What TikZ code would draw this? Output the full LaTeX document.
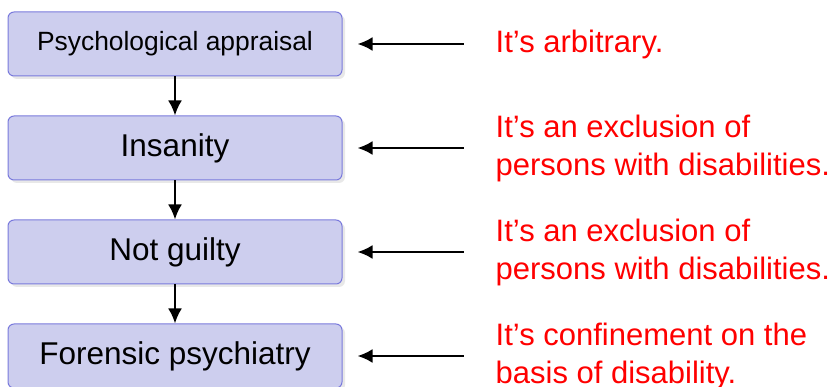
\documentclass[tikz,border=0pt]{standalone}
\usepackage{fontspec}
\setmainfont{Liberation Sans}
\usetikzlibrary{arrows.meta,positioning,shadows}
\definecolor{stagefill}{RGB}{205,206,238}
\definecolor{stageline}{RGB}{122,122,220}
\tikzset{%
	stage/.style = {draw=stageline, fill=stagefill, line width=1pt, rounded corners=6pt, minimum width=334pt, minimum height=64pt, text centered, font=\fontsize{31.5}{38}\selectfont, drop shadow={shadow xshift=3pt, shadow yshift=-3pt, opacity=0.18}}, % step box
	note/.style  = {text=red, align=left, inner sep=0pt, font=\fontsize{31}{38}\selectfont}, % objection
	arrow/.style = {line width=2.4pt, -{Latex[length=15pt,width=14pt]}},
}

\begin{document}
\begin{tikzpicture}[node distance=39pt]
	\useasboundingbox (0,0) rectangle (839pt,-387pt);
	\node [stage,font=\fontsize{26.4}{31}\selectfont] (pa) at (175pt,-44pt) {Psychological appraisal};
	\node [stage] (ins) [below=of pa] {Insanity};
	\node [stage] (ng) [below=of ins] {Not guilty};
	\node [stage] (fp) [below=of ng] {Forensic psychiatry};
	
	\node [note] (n1) [right=153pt of pa] {It’s arbitrary.};
	\node [note] (n2) [right=153pt of ins] {It’s an exclusion of\\persons with disabilities.};
	\node [note] (n3) [right=153pt of ng] {It’s an exclusion of\\persons with disabilities.};
	\node [note] (n4) [right=153pt of fp] {It’s confinement on the\\basis of disability.};
	
	\draw[arrow] (pa) -- (ins);
	\draw[arrow] (ins) -- (ng);
	\draw[arrow] (ng) -- (fp);
	\draw[arrow,shorten <=32pt,shorten >=15pt] (n1.west) -- (pa.east);
	\draw[arrow,shorten <=32pt,shorten >=15pt] (n2.west) -- (ins.east);
	\draw[arrow,shorten <=32pt,shorten >=15pt] (n3.west) -- (ng.east);
	\draw[arrow,shorten <=32pt,shorten >=15pt] (n4.west) -- (fp.east);
\end{tikzpicture}
\end{document}
